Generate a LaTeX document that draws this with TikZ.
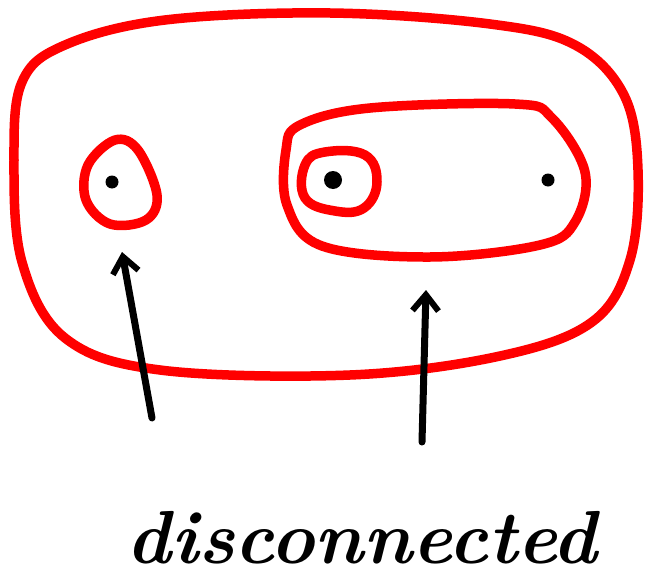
\documentclass[tikz,border=0pt]{standalone}
\usetikzlibrary{arrows.meta}
\begin{document}
\begin{tikzpicture}[x=1pt,y=-1pt,
  blob/.style={draw=red,line width=9.5pt,line join=round},
  pt/.style={circle,fill=black,inner sep=0pt,minimum size=18pt},
  ptsmall/.style={circle,fill=black,inner sep=0pt,minimum size=13pt},
  arr/.style={line width=7pt,line cap=round,-{Straight Barb[length=16pt,width=26pt,line width=6pt]}},
  lbl/.style={inner sep=0pt,font=\itshape}]
\useasboundingbox (0,0) rectangle (645,586);
% outer region
\draw[blob] plot[smooth cycle,tension=0.6] coordinates {(22,82) (65,45) (165,20) (330,13) (490,24) (575,45) (624,95) (638,170) (630,260) (592,322) (500,356) (350,375) (160,370) (65,338) (22,262) (14,160)};
% left small circle
\draw[blob] plot[smooth cycle,tension=0.6] coordinates {(88,165) (115,140) (138,150) (157,195) (146,220) (110,224) (86,200)};
% inner stadium
\draw[blob] plot[smooth cycle,tension=0.6] coordinates {(300,125) (370,108) (515,104) (552,118) (585,172) (575,222) (540,245) (430,257) (322,246) (287,205) (286,150)};
% inner circle
\draw[blob] plot[smooth cycle,tension=0.7] coordinates {(305,165) (325,152) (365,155) (377,182) (364,208) (335,211) (305,198)};
% dots
\node[ptsmall] (p1) at (112,182) {};
\node[pt] (p2) at (333,180) {};
\node[ptsmall] (p3) at (548,180) {};
% arrows
\coordinate (a1s) at (152,418);
\coordinate (a1e) at (122,252);
\coordinate (a2s) at (422,442);
\coordinate (a2e) at (426,290);
\draw[arr] (a1s) -- (a1e);
\draw[arr] (a2s) -- (a2e);
% label
\node[lbl] (t) at (362,538) {\resizebox{470pt}{!}{\bfseries disconnected}};
\end{tikzpicture}
\end{document}
